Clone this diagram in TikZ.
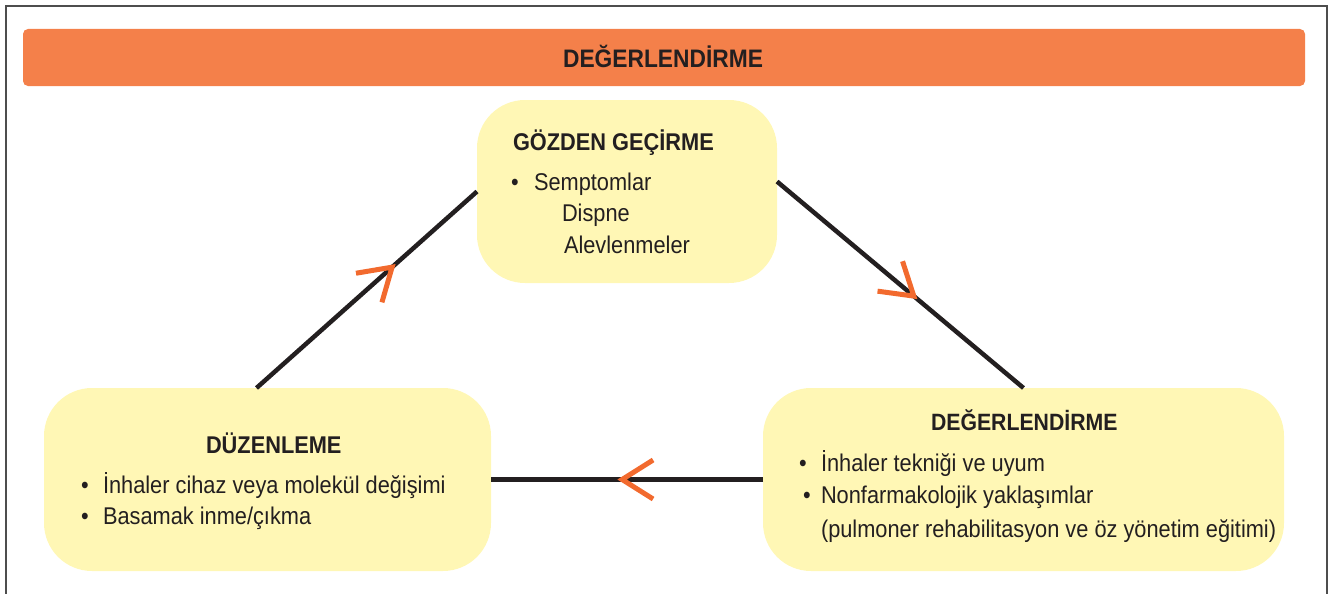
\documentclass[tikz,border=0pt]{standalone}
\usepackage{fontspec}
\setmainfont{Liberation Sans}[FakeStretch=0.9]
\usetikzlibrary{decorations.markings}
\definecolor{ink}{HTML}{231F20}
\definecolor{bannerfill}{HTML}{F4804A}
\definecolor{pale}{HTML}{FFF7B5}
\definecolor{markorange}{HTML}{F26A2E}
\definecolor{frameline}{HTML}{4D4D4D}

\begin{document}
\begin{tikzpicture}[x=1pt,y=-1pt,
  box/.style={fill=pale, rounded corners=48pt, minimum height=183pt,
    inner sep=0pt, outer sep=0pt},
  txt/.style={anchor=base west, inner sep=0pt, outer sep=0pt, text=ink,
    font=\fontsize{24.2}{28}\selectfont},
  head/.style={txt, font=\fontsize{24.2}{28}\selectfont\bfseries},
  link/.style={draw=ink, line width=4.5pt},
  cycle mark/.style={postaction={decorate, decoration={markings,
    mark=at position #1 with {\draw[markorange, line width=5pt, miter limit=10]
      (-31pt,19.5pt) -- (0pt,0pt) -- (-31pt,-19.5pt);}}}}
]
\useasboundingbox (0,0) rectangle (1330,594);

% outer frame (open at the bottom)
\draw[frameline, line width=1.5pt] (6,594) -- (6,6) -- (1327,6) -- (1327,594);

% heading banner
\node[fill=bannerfill, rounded corners=5pt, minimum width=1282pt,
  minimum height=57pt, inner sep=0pt] (banner) at (664,57.5) {};
\node[head, anchor=base, font=\fontsize{25.3}{28}\selectfont\bfseries]
  (bannertitle) at (663,67) {DEĞERLENDİRME};

% the three stages
\node[box, minimum width=300pt] (goz) at (627,191.5) {};
\node[box, minimum width=447pt] (duz) at (267.5,479.5) {};
\node[box, minimum width=521pt] (deg) at (1023.5,479.5) {};

% cycle connectors with direction marks
\draw[link, cycle mark=0.615] ([xshift=-11pt]duz.north) -- (goz.west);
\draw[link, cycle mark=0.555] ([yshift=10pt]goz.east) -- (deg.north);
\draw[link, cycle mark=0.518] (deg.west) -- (duz.east);

% review stage text
\node[head] (gozt) at (513,150) {GÖZDEN GEÇİRME};
\node[txt] (gozb1) at (511,190) {•};
\node[txt] (gozl1) at (534,190) {Semptomlar};
\node[txt] (gozl2) at (562,221) {Dispne};
\node[txt] (gozl3) at (564,253) {Alevlenmeler};

% adjustment stage text
\node[head] (duzt) at (206,453) {DÜZENLEME};
\node[txt] (duzb1) at (81,493) {•};
\node[txt] (duzl1) at (103,493) {İnhaler cihaz veya molekül değişimi};
\node[txt] (duzb2) at (81,524) {•};
\node[txt] (duzl2) at (103,524) {Basamak inme/çıkma};

% assessment stage text
\node[head, font=\fontsize{23.6}{28}\selectfont\bfseries] (degt) at (931,430) {DEĞERLENDİRME};
\node[txt] (degb1) at (799,471) {•};
\node[txt] (degl1) at (821,471) {İnhaler tekniği ve uyum};
\node[txt] (degb2) at (803,503) {•};
\node[txt] (degl2) at (821,503) {Nonfarmakolojik yaklaşımlar};
\node[txt] (degl3) at (821,537) {(pulmoner rehabilitasyon ve öz yönetim eğitimi)};
\end{tikzpicture}
\end{document}
